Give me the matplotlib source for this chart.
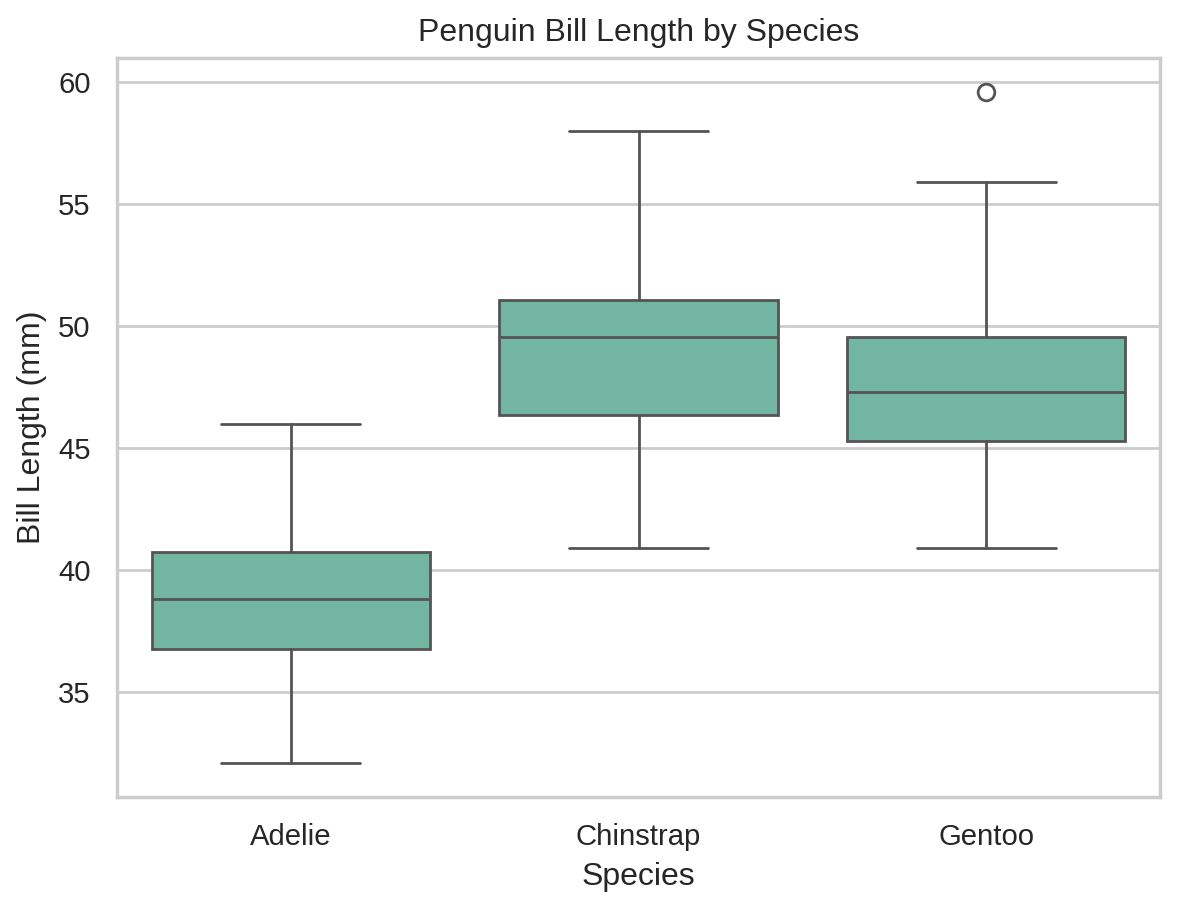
import matplotlib
matplotlib.use("Agg")
import matplotlib.pyplot as plt
import seaborn as sns

species = ["Adelie", "Chinstrap", "Gentoo"]
whislo = [32.1, 40.9, 40.9]
q1 = [36.75, 46.35, 45.3]
med = [38.8, 49.55, 47.3]
q3 = [40.75, 51.08, 49.55]
whishi = [46.0, 58.0, 55.9]
fliers = [[], [], [59.6]]

sns.set_theme(style="whitegrid", font_scale=0.96)
plt.rcParams['font.family'] = ['Arial', 'Liberation Sans', 'DejaVu Sans']

fig, ax = plt.subplots(figsize=(5.885, 4.545), dpi=200)
stats = []
for i, s in enumerate(species):
    stats.append(dict(label=s, whislo=whislo[i], q1=q1[i], med=med[i], q3=q3[i],
                      whishi=whishi[i], fliers=fliers[i]))
line_c = "#545454"
face = sns.desaturate("#66c2a5", 0.75)
ax.bxp(stats, positions=range(len(species)), widths=0.8, patch_artist=True,
       boxprops=dict(facecolor=face, edgecolor=line_c, linewidth=1.0),
       medianprops=dict(color=line_c, linewidth=1.0),
       whiskerprops=dict(color=line_c, linewidth=1.0),
       capprops=dict(color=line_c, linewidth=1.0),
       flierprops=dict(marker='o', markerfacecolor='none', markeredgecolor=line_c,
                       markersize=6, markeredgewidth=1.0),
       capwidths=0.4)
ax.set_xlim(-0.5, 2.5)
ax.set_ylim(30.7, 60.98)
ax.xaxis.grid(False)
ax.set_title("Penguin Bill Length by Species")
ax.set_xlabel("Species")
ax.set_ylabel("Bill Length (mm)")
fig.subplots_adjust(left=117/1177, right=1160/1177, bottom=(909-797)/909, top=(909-58)/909)
fig.savefig("out.png", dpi=200)
